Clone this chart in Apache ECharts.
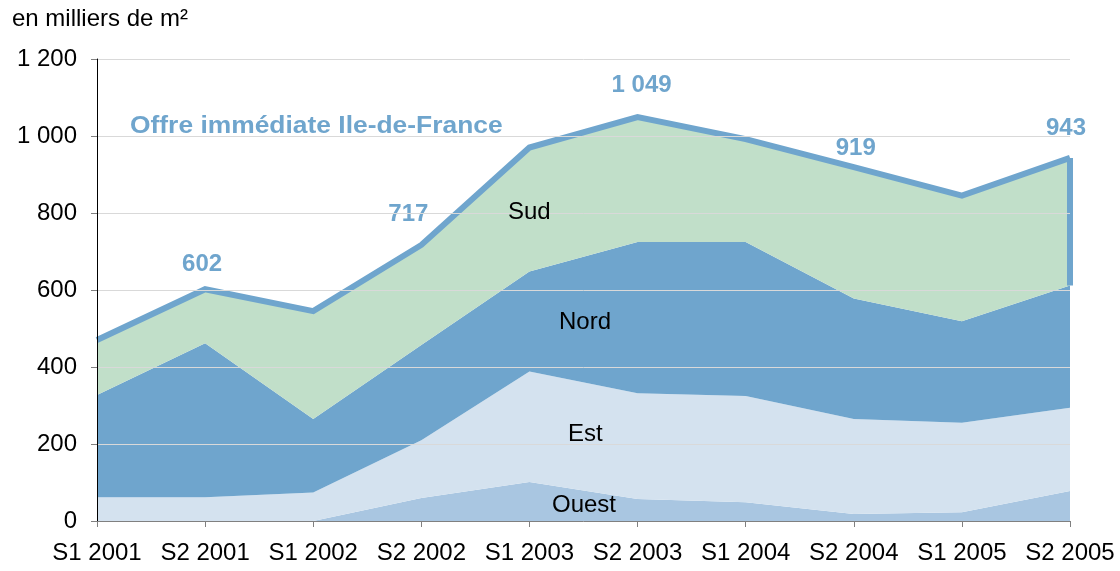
<!DOCTYPE html>
<html>
<head>
<meta charset="utf-8">
<script src="https://cdn.jsdelivr.net/npm/echarts@6/dist/echarts.min.js"></script>
<style>
  html, body { margin: 0; padding: 0; background: #ffffff; }
  #chart { width: 1120px; height: 571px; }
</style>
</head>
<body>
<div id="chart"></div>
<script>
// data (milliers de m²)
const categories = ["S1 2001", "S2 2001", "S1 2002", "S2 2002", "S1 2003", "S2 2003", "S1 2004", "S2 2004", "S1 2005", "S2 2005"];
const ouest = [0, 0, 0, 60, 101, 57, 49, 18, 23, 78];
const est = [62, 62, 74, 150, 287, 275, 276, 247, 232, 216];
const nord = [265, 400, 191, 247, 260, 393, 400, 313, 264, 318];
const sud = [143, 140, 280, 260, 322, 324, 267, 341, 326, 331];
// points whose total is written on the chart
const labelledIdx = [1, 3, 5, 7, 9];

const total = categories.map((c, i) => ouest[i] + est[i] + nord[i] + sud[i]);
const nordTop = categories.map((c, i) => ouest[i] + est[i] + nord[i]);
const fmt = (v) => String(v).replace(/\B(?=(\d{3})+(?!\d))/g, " ");

const FONT = "Liberation Sans, Arial, sans-serif";
const BLUE = "#6fa5cd";

// label centre relative to the point
const labelOffsets = {
  1: [-3, -25],
  3: [-13, -31],
  5: [4, -32],
  7: [2, -19],
  9: [-4, -30],
};

const chart = echarts.init(document.getElementById("chart"));

const totalData = total.map((v, i) => {
  if (labelledIdx.indexOf(i) < 0) return v;
  return {
    value: v,
    label: {
      show: true,
      position: "inside",
      offset: labelOffsets[i],
      formatter: fmt(v),
      color: BLUE,
      fontFamily: FONT,
      fontWeight: "bold",
      fontSize: 24,
    },
  };
});

const areaSeries = (name, data, color) => ({
  name: name,
  type: "line",
  stack: "zone",
  data: data,
  symbol: "none",
  lineStyle: { width: 0 },
  areaStyle: { color: color, opacity: 1 },
  itemStyle: { color: color },
  silent: true,
});

const txt = (text, left, top, font, fill) => ({
  type: "text",
  left: left,
  top: top,
  z: 100,
  style: { text: text, fill: fill || "#000", font: font },
});

const title = txt("Offre immédiate Ile-de-France", 130, 114, "bold 24px " + FONT, BLUE);
title.scaleX = 1.1;

const option = {
  animation: false,
  backgroundColor: "#ffffff",
  grid: { left: 97, right: 50, top: 59, bottom: 50 },
  xAxis: {
    type: "category",
    data: categories,
    boundaryGap: false,
    z: 10,
    axisLine: { lineStyle: { color: "#808080", width: 1 } },
    axisTick: { show: true, interval: 0, length: 6, lineStyle: { color: "#808080" } },
    axisLabel: { color: "#000", fontFamily: FONT, fontSize: 24, margin: 20, interval: 0 },
    splitLine: { show: false },
  },
  yAxis: {
    type: "value",
    min: 0,
    max: 1200,
    interval: 200,
    z: 10,
    axisLine: { show: true, lineStyle: { color: "#000", width: 1 } },
    axisTick: { show: true, length: 6, lineStyle: { color: "#808080" } },
    axisLabel: {
      color: "#000",
      fontFamily: FONT,
      fontSize: 24,
      margin: 20,
      formatter: (v) => fmt(v),
    },
    splitLine: { show: true, lineStyle: { color: "#d9d9d9", width: 1 } },
  },
  series: [
    areaSeries("Ouest", ouest, "#a9c6e1"),
    areaSeries("Est", est, "#d4e2ef"),
    areaSeries("Nord", nord, "#6fa5cd"),
    areaSeries("Sud", sud, "#c1dfc9"),
    {
      name: "Total",
      type: "line",
      data: totalData,
      symbol: "circle",
      symbolSize: 0,
      showSymbol: true,
      lineStyle: { color: BLUE, width: 6, join: "miter" },
      itemStyle: { color: BLUE },
      z: 5,
      markLine: {
        silent: true,
        symbol: "none",
        label: { show: false },
        lineStyle: { color: BLUE, width: 6, type: "solid" },
        data: [
          [{ coord: [categories[9], nordTop[9]] }, { coord: [categories[9], total[9]] }],
        ],
      },
    },
  ],
  graphic: [
    txt("en milliers de m²", 12, 7, "24px " + FONT),
    title,
    txt("Sud", 508, 200, "24px " + FONT),
    txt("Nord", 559, 310, "24px " + FONT),
    txt("Est", 568, 422, "24px " + FONT),
    txt("Ouest", 552, 493, "24px " + FONT),
  ],
};

chart.setOption(option);
</script>
</body>
</html>
